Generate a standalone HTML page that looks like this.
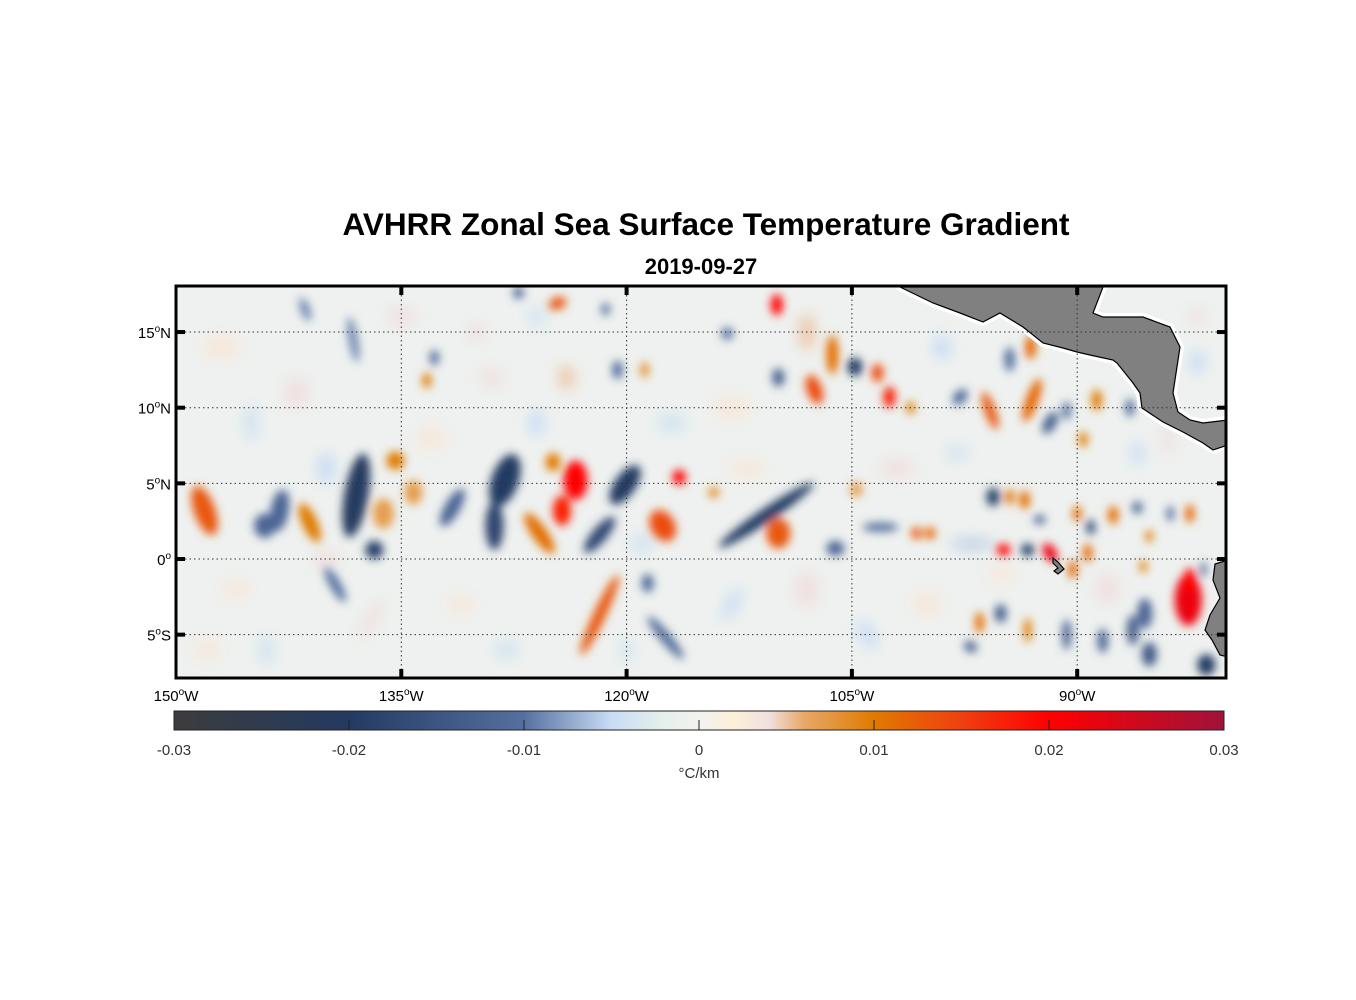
<!DOCTYPE html>
<html><head><meta charset="utf-8">
<style>
html,body{margin:0;padding:0;background:#fff;}
svg{display:block;font-family:"Liberation Sans",Arial,sans-serif;}
</style></head>
<body>
<svg id="chart" width="1356" height="1000" viewBox="0 0 1356 1000" xmlns="http://www.w3.org/2000/svg">
<defs>
<clipPath id="plotclip"><rect x="176" y="286" width="1050" height="392"/></clipPath>
<filter id="blur" x="-50%" y="-50%" width="200%" height="200%"><feGaussianBlur stdDeviation="4.5"/></filter>
<filter id="blur2" x="-50%" y="-50%" width="200%" height="200%"><feGaussianBlur stdDeviation="7"/></filter>
<linearGradient id="cbgrad" x1="0" x2="1" y1="0" y2="0"></linearGradient>
</defs>
<text x="706" y="235" text-anchor="middle" font-size="31.5" font-weight="bold">AVHRR Zonal Sea Surface Temperature Gradient</text>
<text x="701" y="274" text-anchor="middle" font-size="22" font-weight="bold">2019-09-27</text>
<g id="plot" clip-path="url(#plotclip)">
<rect x="176" y="286" width="1050" height="392" fill="#eef1ef"/>
<g id="faint" filter="url(#blur2)"></g>
<g id="blobs" filter="url(#blur)"></g>
<g id="land">
<polygon stroke="#fff" stroke-width="8" stroke-linejoin="round" fill="#fff" points="900,287 933,303 960,313 983,322 1000,313 1023,327 1043,343 1063,348 1077,352 1090,355 1113,360 1117,363 1133,383 1140,393 1142,408 1163,422 1183,432 1203,443 1213,450 1225,445 1220,440 1225,435 1225,420 1203,423 1190,420 1178,412 1173,393 1180,347 1170,327 1143,317 1103,317 1093,313 1103,287"/>
<polygon stroke="#000" stroke-width="1.2" fill="#808080" points="900,287 933,303 960,313 983,322 1000,313 1023,327 1043,343 1063,348 1077,352 1090,355 1113,360 1117,363 1133,383 1140,393 1142,408 1163,422 1183,432 1203,443 1213,450 1228,445 1228,435 1228,420 1203,423 1190,420 1178,412 1173,393 1180,347 1170,327 1143,317 1103,317 1093,313 1103,287"/>
<polygon stroke="#000" stroke-width="1.2" fill="#808080" points="1228,560 1215,564 1213,580 1220,598 1210,615 1205,630 1212,640 1220,655 1228,657"/>
<polygon stroke="#000" stroke-width="1.2" fill="#808080" points="1053,558 1058,562 1064,569 1058,574 1054,571 1058,568 1053,563"/>
</g>
<g id="grid"></g>
</g>
<rect x="176" y="286" width="1050" height="392" fill="none" stroke="#000" stroke-width="3"/>
<g id="axes"></g>
<g id="colorbar">
<rect x="174" y="711" width="1050" height="19" fill="url(#cbgrad)" stroke="#222" stroke-width="1"/>
</g>
<text x="699" y="778" text-anchor="middle" font-size="15" fill="#333">°C/km</text>
</svg>
<script>
// ---- data ----
const blobLon = [-148.1,-143.1,-144.1,-141.1,-138.0,-136.8,-135.4,-136.2,-134.2,-131.6,-128.1,-128.8,-125.8,-123.4,-124.3,-124.9,-120.1,-121.8,-116.5,-117.6,-114.2,-110.7,-109.9,-106.1,-121.8,-139.4,-118.6,-117.4,-124.6,-110.0,-127.2,-121.4,-113.3,-109.9,-107.5,-106.3,-133.3,-132.8,-120.6,-118.8,-138.2,-141.4,-104.8,-103.3,-102.5,-101.1,-95.8,-93.1,-93.0,-94.5,-97.8,-91.8,-90.7,-89.6,-88.7,-86.5,-95.6,-94.5,-93.5,-100.7,-99.8,-94.9,-93.3,-91.8,-90.3,-92.5,-90.0,-89.1,-89.3,-87.6,-86.0,-83.8,-82.5,-85.2,-82.6,-82.5,-81.6,-85.6,-95.1,-96.5,-97.1,-86.3,-85.5,-85.2,-81.4,-88.3,-93.3,-90.7,-103.1,-104.7];
const blobLat = [3.2,3.2,2.2,2.4,4.2,0.6,6.5,3.0,4.4,3.4,5.2,2.2,1.7,5.2,3.2,6.4,4.9,1.6,5.4,2.2,4.4,2.9,1.7,0.7,-3.7,-1.7,-1.6,-5.2,16.9,16.8,17.6,16.5,14.9,12.0,11.2,13.5,11.8,13.3,12.5,12.5,14.5,16.5,12.7,12.3,10.7,10.0,9.8,14.0,10.5,13.2,10.7,9.0,9.8,7.9,10.5,10.0,4.1,4.1,3.9,1.7,1.7,0.6,0.6,0.4,-0.7,2.6,3.0,2.1,0.4,2.9,3.4,3.0,3.0,1.5,-2.7,-1.4,-0.7,-0.5,-3.6,-4.2,-5.8,-4.7,-3.6,-6.3,-7.0,-5.4,-4.7,-5.0,2.1,4.6];
const blobValue = [0.013,-0.012,-0.012,0.010,-0.021,-0.019,0.010,0.007,0.007,-0.012,-0.020,-0.018,0.011,0.020,0.018,0.010,-0.020,-0.017,0.020,0.014,0.009,-0.020,0.013,-0.012,0.013,-0.010,-0.011,-0.011,0.013,0.020,-0.012,-0.010,-0.010,-0.013,0.014,0.011,0.010,-0.012,-0.011,0.008,-0.009,-0.009,-0.020,0.014,0.018,0.010,0.013,0.012,0.012,-0.010,-0.011,-0.013,-0.010,0.010,0.010,-0.011,-0.019,0.011,0.011,0.013,0.012,0.020,-0.020,0.022,0.012,-0.012,0.011,-0.017,0.012,0.011,-0.012,-0.011,0.012,0.010,0.022,0.020,-0.013,0.010,-0.013,0.011,-0.013,-0.013,-0.012,-0.014,-0.020,-0.012,0.010,-0.012,-0.010,0.007];
const blobHalfWidthDeg = [0.7,0.6,0.7,0.5,0.8,0.6,0.6,0.7,0.6,0.5,0.9,0.6,0.5,0.8,0.6,0.5,0.7,0.5,0.45,0.8,0.35,3.8,0.8,0.6,0.4,0.35,0.4,0.35,0.6,0.4,0.35,0.3,0.4,0.4,0.5,0.4,0.3,0.3,0.35,0.3,0.3,0.3,0.5,0.4,0.4,0.3,0.35,0.35,0.4,0.35,0.4,0.4,0.3,0.3,0.35,0.3,0.45,0.3,0.35,0.35,0.35,0.45,0.45,0.4,0.3,0.4,0.3,0.3,0.3,0.35,0.35,0.25,0.3,0.25,0.9,0.4,0.2,0.25,0.4,0.3,0.45,0.4,0.5,0.5,0.6,0.35,0.25,0.3,1.2,0.4];
const blobHalfHeightDeg = [1.7,1.4,0.8,1.4,2.8,0.6,0.6,1.0,0.8,1.4,1.8,1.6,1.6,1.3,1.0,0.6,1.5,1.5,0.5,1.1,0.35,0.45,1.0,0.5,2.9,1.3,0.6,1.8,0.4,0.7,0.4,0.4,0.4,0.6,1.0,1.3,0.5,0.5,0.6,0.5,1.5,0.8,0.6,0.6,0.7,0.4,1.3,0.8,1.5,0.8,0.6,0.8,0.6,0.5,0.7,0.6,0.6,0.5,0.6,0.4,0.4,0.4,0.4,0.7,0.6,0.3,0.5,0.5,0.6,0.6,0.4,0.5,0.6,0.4,1.7,0.8,0.5,0.4,0.6,0.7,0.35,1.0,1.0,0.8,0.7,0.8,0.8,1.0,0.3,0.5];
const blobRotation = [-20,10,0,-25,10,0,0,0,0,30,20,0,-35,0,0,0,35,40,0,-30,0,-34,0,0,25,-30,0,-40,-20,0,0,0,0,0,-20,0,0,0,0,0,-10,-20,0,0,0,0,-20,0,20,0,40,30,0,0,0,0,0,0,0,0,0,0,0,-30,0,0,0,0,0,0,0,0,0,0,0,0,0,0,0,0,30,0,0,0,0,0,0,0,0,0];
// faint background features
const faintLon = [-147,-145,-142,-140,-146,-144,-137,-131,-129,-126,-124,-130,-117,-113,-113,-108,-104,-100,-102,-98,-97,-95,-86,-84,-82,-82,-135,-126,-148,-120,-108,-99,-140,-133,-128,-112,-88,-119];
const faintLat = [14,9,11,6,-2,-6,-4,-3,12,9,12,15,9,10,-3,-2,-5,-3,6,7,1,-1,7,8,13,16,16,16,-6,-6,15,14,0,8,-6,6,-2,1];
const faintValue = [0.003,-0.004,0.004,-0.005,0.003,-0.004,0.004,0.003,0.004,-0.005,0.005,0.004,-0.004,0.003,-0.005,0.004,-0.005,0.003,0.004,-0.004,-0.006,0.003,-0.005,0.004,-0.005,0.004,0.004,-0.004,0.003,-0.004,0.005,-0.005,0.004,0.003,-0.004,0.003,0.004,-0.004];
const faintHalfWidthDeg = [1.2,0.5,0.8,0.6,1.0,0.5,0.4,1.0,0.8,0.5,0.5,0.6,1.0,1.2,0.4,0.8,0.5,1.0,1.2,0.8,1.5,1.0,0.4,0.4,0.5,0.5,1.0,0.6,1.0,0.4,0.5,0.6,0.8,1.0,0.8,1.2,0.8,0.8];
const faintHalfHeightDeg = [0.8,1.2,1.0,1.0,0.6,1.0,1.5,0.6,0.6,0.9,0.8,0.6,0.6,0.8,1.2,1.2,1.0,0.8,0.6,0.5,0.3,0.5,0.8,1.0,0.8,0.6,0.6,0.6,0.6,0.8,1.2,0.8,0.6,0.8,0.6,0.6,1.0,0.6];
const faintRotation = [0,0,0,0,0,0,30,0,0,0,0,0,0,0,30,0,-30,0,0,0,0,0,0,0,0,0,0,0,0,0,0,0,0,0,0,0,0,0];
const lonTicks = [-150,-135,-120,-105,-90];
const lonTickLabels = ["150","135","120","105","90"];
const latTicks = [15,10,5,0,-5];
const latTickLabels = ["15","10","5","0","5"];
const latTickHemi = ["N","N","N","",'S'];
const cbTicks = [-0.03,-0.02,-0.01,0,0.01,0.02,0.03];
const cbTickLabels = ["-0.03","-0.02","-0.01","0","0.01","0.02","0.03"];
const cmapVals = [-0.03,-0.02,-0.01,-0.005,-0.002,0,0.002,0.004,0.006,0.01,0.015,0.02,0.03];
const cmapColors = ["#3c3c3c","#233a62","#5570a0","#c8dcf5","#e6f0ea","#f2f2f0","#fdf0d8","#f0e0e0","#e8a868","#e07a00","#ef4010","#ff0000","#a0123a"];

// ---- axes ----
const PX0=176, PX1=1226, PY0=286, PY1=678;
function xLon(lon){return PX0+(lon+150)*15.02;}
function yLat(lat){return 559-lat*15.13;}
const CB0=174, CB1=1224;
function xCb(v){return CB0+(v+0.03)/0.06*(CB1-CB0);}
function hex(c){return [parseInt(c.substr(1,2),16),parseInt(c.substr(3,2),16),parseInt(c.substr(5,2),16)];}
function cmap(v){
  if(v<=cmapVals[0])return cmapColors[0];
  for(let i=1;i<cmapVals.length;i++){
    if(v<=cmapVals[i]){
      const t=(v-cmapVals[i-1])/(cmapVals[i]-cmapVals[i-1]);
      const a=hex(cmapColors[i-1]),b=hex(cmapColors[i]);
      return 'rgb('+a.map((x,k)=>Math.round(x+(b[k]-x)*t)).join(',')+')';
    }
  }
  return cmapColors[cmapColors.length-1];
}
const NS='http://www.w3.org/2000/svg';
function mk(tag,attrs,parent){const e=document.createElementNS(NS,tag);for(const k in attrs)e.setAttribute(k,attrs[k]);parent.appendChild(e);return e;}

// faint
const gF=document.getElementById('faint');
for(let i=0;i<faintLon.length;i++){
  const cx=xLon(faintLon[i]), cy=yLat(faintLat[i]);
  const e=mk('ellipse',{cx:cx,cy:cy,rx:faintHalfWidthDeg[i]*15.02,ry:faintHalfHeightDeg[i]*15.13,fill:cmap(faintValue[i]),transform:'rotate('+faintRotation[i]+' '+cx+' '+cy+')'},gF);
  
  
}
// blobs
const gB=document.getElementById('blobs');
for(let i=0;i<blobLon.length;i++){
  const cx=xLon(blobLon[i]), cy=yLat(blobLat[i]);
  const e=mk('ellipse',{cx:cx,cy:cy,rx:blobHalfWidthDeg[i]*15.02,ry:blobHalfHeightDeg[i]*15.13,fill:cmap(blobValue[i]),transform:'rotate('+blobRotation[i]+' '+cx+' '+cy+')'},gB);
  
  
}
// grid
const gG=document.getElementById('grid');
lonTicks.slice(1).forEach(l=>{
  const e=mk('line',{x1:xLon(l),x2:xLon(l),y1:PY0,y2:PY1,stroke:'#333','stroke-width':1,'stroke-dasharray':'1.5,3'},gG);
  
  
});
latTicks.forEach(l=>{
  const e=mk('line',{x1:PX0,x2:PX1,y1:yLat(l),y2:yLat(l),stroke:'#333','stroke-width':1,'stroke-dasharray':'1.5,3'},gG);
  
  
});
// axes ticks and labels
const gA=document.getElementById('axes');
lonTicks.forEach((l,i)=>{
  const x=xLon(l);
  if(i>0){
    const t1=mk('line',{x1:x,x2:x,y1:PY0,y2:PY0+9,stroke:'#000','stroke-width':4},gA);
    
    
    const t2=mk('line',{x1:x,x2:x,y1:PY1-9,y2:PY1,stroke:'#000','stroke-width':4},gA);
    
    
  }
  const tx=mk('text',{x:x,y:701,'text-anchor':'middle','font-size':15},gA);
  tx.innerHTML=lonTickLabels[i]+'<tspan dy="-6" font-size="10">o</tspan><tspan dy="6">W</tspan>';
  
  
});
latTicks.forEach((l,i)=>{
  const y=yLat(l);
  const t1=mk('line',{x1:PX0,x2:PX0+9,y1:y,y2:y,stroke:'#000','stroke-width':4},gA);
  
  
  const t2=mk('line',{x1:PX1-9,x2:PX1,y1:y,y2:y,stroke:'#000','stroke-width':4},gA);
  
  
  const tx=mk('text',{x:171,y:y+6,'text-anchor':'end','font-size':15},gA);
  tx.innerHTML=latTickLabels[i]+'<tspan dy="-6" font-size="10">o</tspan><tspan dy="6">'+latTickHemi[i]+'</tspan>';
  
  
});
// colorbar
const grad=document.getElementById('cbgrad');
cmapVals.forEach((v,i)=>{
  const s=mk('stop',{offset:((v+0.03)/0.06),'stop-color':cmapColors[i]},grad);
  
  
});
const gC=document.getElementById('colorbar');
cbTicks.forEach((v,i)=>{
  const x=xCb(v);
  if(i>0&&i<cbTicks.length-1){
    const t=mk('line',{x1:x,x2:x,y1:730,y2:720,stroke:'#222','stroke-width':1},gC);
    
    
  }
  const tx=mk('text',{x:x,y:755,'text-anchor':'middle','font-size':15,fill:'#333'},gC);
  tx.textContent=cbTickLabels[i];
  
  
});
</script>
</body></html>
